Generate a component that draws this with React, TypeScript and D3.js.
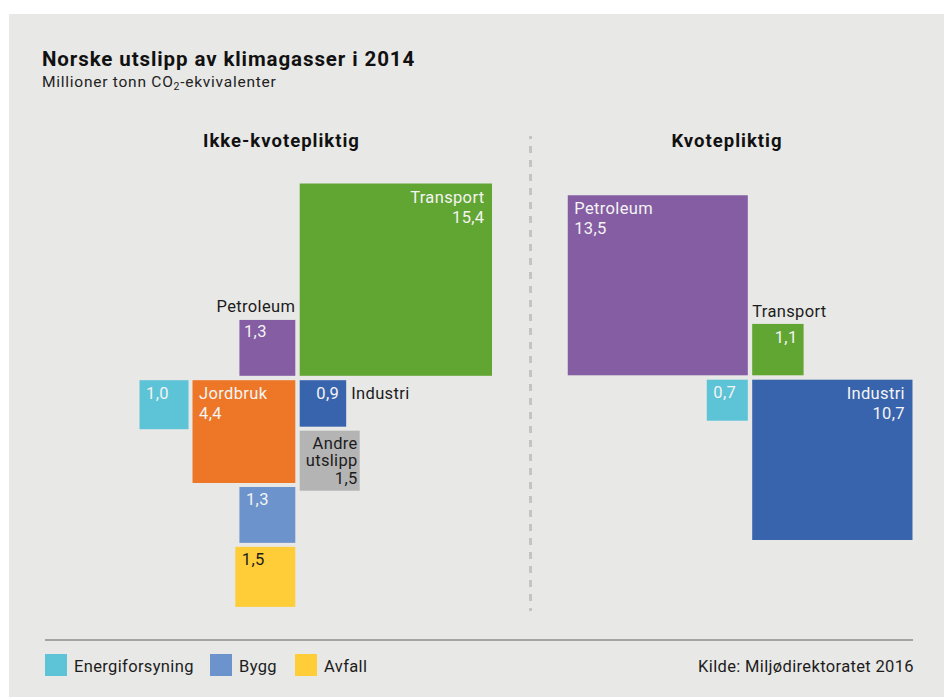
import React, { useEffect } from "react";
import * as d3 from "d3";

// ---- Data ----
const ikkeKvoteSectors = ["Transport", "Petroleum", "Jordbruk", "Industri", "Energiforsyning", "Andre utslipp", "Bygg", "Avfall"];
const ikkeKvoteValues = [15.4, 1.3, 4.4, 0.9, 1.0, 1.5, 1.3, 1.5];
const kvoteSectors = ["Petroleum", "Transport", "Energiforsyning", "Industri"];
const kvoteValues = [13.5, 1.1, 0.7, 10.7];
const legendSectors = ["Energiforsyning", "Bygg", "Avfall"];
const groupTitles = ["Ikke-kvotepliktig", "Kvotepliktig"];

const sectorColors: Record<string, string> = {
  Transport: "#61a532",
  Petroleum: "#845da3",
  Jordbruk: "#ee7627",
  Industri: "#3864ad",
  Energiforsyning: "#5dc3d6",
  "Andre utslipp": "#b4b4b4",
  Bygg: "#6c93cc",
  Avfall: "#ffcd38",
};

type Place = { q?: "tl" | "tr" | "bl" | "br"; below?: string; leftOf?: string };
type LabelMode =
  | "inLeft"
  | "inRight"
  | "valLeft"
  | "valRight"
  | "nameAboveRight"
  | "nameAboveLeft"
  | "nameRightOutside"
  | "wrapRight";

const ikkePlace: Place[] = [
  { q: "tr" }, { q: "tl" }, { q: "bl" }, { q: "br" },
  { leftOf: "Jordbruk" }, { below: "Industri" }, { below: "Jordbruk" }, { below: "Bygg" },
];
const ikkeLabels: LabelMode[] = ["inRight", "nameAboveRight", "inLeft", "nameRightOutside", "valLeft", "wrapRight", "valLeft", "valLeft"];
const kvotePlace: Place[] = [{ q: "tl" }, { q: "tr" }, { q: "bl" }, { q: "br" }];
const kvoteLabels: LabelMode[] = ["inLeft", "nameAboveLeft", "valLeft", "inRight"];

const fmt = (v: number) => v.toFixed(1).replace(".", ",");
const FONT = "Roboto, 'DejaVu Sans', sans-serif";
const DARK = "#1c1c1c";
const LIGHT = "#f4f4f4";
const LS = 0.35;

type Box = { name: string; value: number; x: number; y: number; s: number; label: LabelMode };

function layout(names: string[], values: number[], places: Place[], labels: LabelMode[], cx: number, cy: number, side: d3.ScalePower<number, number>) {
  const half = 2.2;
  const gap = 4;
  const boxes: Record<string, Box> = {};
  names.forEach((name, i) => {
    const s = side(values[i]);
    const p = places[i];
    let x = 0, y = 0;
    if (p.q) {
      x = p.q.endsWith("l") ? cx - half - s : cx + half;
      y = p.q.startsWith("t") ? cy - half - s : cy + half;
    } else if (p.below) {
      const b = boxes[p.below];
      y = b.y + b.s + gap;
      x = b.x + b.s <= cx ? b.x + b.s - s : b.x;
    } else if (p.leftOf) {
      const b = boxes[p.leftOf];
      x = b.x - gap - s;
      y = b.y;
    }
    boxes[name] = { name, value: values[i], x, y, s, label: labels[i] };
  });
  return names.map((n) => boxes[n]);
}

function BoxLabel({ b }: { b: Box }) {
  const padX = 6.5;
  const base = 18.5;
  const lh = 20;
  const fs = 16.5;
  const fill = b.name === "Avfall" ? DARK : LIGHT;
  const common = { fontFamily: FONT, fontSize: fs, letterSpacing: LS } as const;
  switch (b.label) {
    case "inLeft":
      return (
        <text {...common} fill={fill} x={b.x + padX} y={b.y + base}>
          <tspan x={b.x + padX}>{b.name}</tspan>
          <tspan x={b.x + padX} dy={lh}>{fmt(b.value)}</tspan>
        </text>
      );
    case "inRight":
      return (
        <text {...common} fill={fill} textAnchor="end" x={b.x + b.s - padX - 1} y={b.y + base + 1}>
          <tspan x={b.x + b.s - padX - 1}>{b.name}</tspan>
          <tspan x={b.x + b.s - padX - 1} dy={lh}>{fmt(b.value)}</tspan>
        </text>
      );
    case "valLeft":
      return (
        <text {...common} fill={fill} x={b.x + padX} y={b.y + base}>{fmt(b.value)}</text>
      );
    case "valRight":
      return (
        <text {...common} fill={fill} textAnchor="end" x={b.x + b.s - padX} y={b.y + base}>{fmt(b.value)}</text>
      );
    case "nameAboveRight":
      return (
        <g>
          <text {...common} fill={DARK} textAnchor="end" x={b.x + b.s} y={b.y - 8}>{b.name}</text>
          <text {...common} fill={fill} x={b.x + 4.5} y={b.y + base - 1}>{fmt(b.value)}</text>
        </g>
      );
    case "nameAboveLeft":
      return (
        <g>
          <text {...common} fill={DARK} x={b.x} y={b.y - 7}>{b.name}</text>
          <text {...common} fill={fill} textAnchor="end" x={b.x + b.s - 6} y={b.y + base + 1}>{fmt(b.value)}</text>
        </g>
      );
    case "nameRightOutside":
      return (
        <g>
          <text {...common} fill={fill} textAnchor="end" x={b.x + b.s - 7} y={b.y + base}>{fmt(b.value)}</text>
          <text {...common} fill={DARK} x={b.x + b.s + 5} y={b.y + base}>{b.name}</text>
        </g>
      );
    case "wrapRight": {
      const words = b.name.split(" ");
      const xr = b.x + b.s - 2;
      return (
        <text {...common} fill={DARK} textAnchor="end" x={xr} y={b.y + 18}>
          {words.map((w, i) => (
            <tspan key={w} x={xr} dy={i === 0 ? 0 : 17.5}>{w}</tspan>
          ))}
          <tspan x={xr} dy={17.5}>{fmt(b.value)}</tspan>
        </text>
      );
    }
  }
  return null;
}

export default function App() {
  useEffect(() => {
    document.body.style.margin = "0";
  }, []);

  const W = 944, H = 697;
  const side = d3.scaleSqrt().domain([0, 1]).range([0, 49]);

  const left = layout(ikkeKvoteSectors, ikkeKvoteValues, ikkePlace, ikkeLabels, 297.5, 378, side);
  const right = layout(kvoteSectors, kvoteValues, kvotePlace, kvoteLabels, 750, 377.5, side);

  const legendOffsets = [45, 210, 295];

  return (
    <svg width={W} height={H} style={{ display: "block" }}>
      <rect x={0} y={0} width={W} height={H} fill="#ffffff" />
      <rect x={9} y={14} width={W - 9} height={H - 14} fill="#e8e8e6" />

      <text x={42} y={66} fontFamily={FONT} fontWeight={700} fontSize={20.5} letterSpacing={0.9} fill="#111">
        Norske utslipp av klimagasser i 2014
      </text>
      <text x={42} y={87} fontFamily={FONT} fontSize={15.5} letterSpacing={0.75} fill="#222">
        Millioner tonn CO<tspan fontSize={10.5} dy={3}>2</tspan><tspan dy={-3}>-ekvivalenter</tspan>
      </text>

      <text x={281.5} y={146.5} textAnchor="middle" fontFamily={FONT} fontWeight={700} fontSize={18.5} letterSpacing={1} fill="#111">
        {groupTitles[0]}
      </text>
      <text x={727} y={146.5} textAnchor="middle" fontFamily={FONT} fontWeight={700} fontSize={18.5} letterSpacing={1} fill="#111">
        {groupTitles[1]}
      </text>

      <line x1={530.5} x2={530.5} y1={136} y2={611} stroke="#c4c4c4" strokeWidth={3} strokeDasharray="7 7" strokeDashoffset={4} />

      {[...left, ...right].map((b, i) => (
        <rect key={"r" + i} x={b.x} y={b.y} width={b.s} height={b.s} fill={sectorColors[b.name]} />
      ))}
      {[...left, ...right].map((b, i) => (
        <BoxLabel key={"l" + i} b={b} />
      ))}

      <line x1={45} x2={913} y1={640} y2={640} stroke="#a4a4a4" strokeWidth={2} />

      {legendSectors.map((s, i) => {
        const x = legendOffsets[i];
        return (
          <g key={s}>
            <rect x={x} y={654} width={22} height={22} fill={sectorColors[s]} />
            <text x={x + 29} y={671.5} fontFamily={FONT} fontSize={16.5} letterSpacing={LS} fill={DARK}>{s}</text>
          </g>
        );
      })}

      <text x={914} y={671.5} textAnchor="end" fontFamily={FONT} fontSize={16.5} letterSpacing={LS} fill={DARK}>
        Kilde: Miljødirektoratet 2016
      </text>
    </svg>
  );
}
